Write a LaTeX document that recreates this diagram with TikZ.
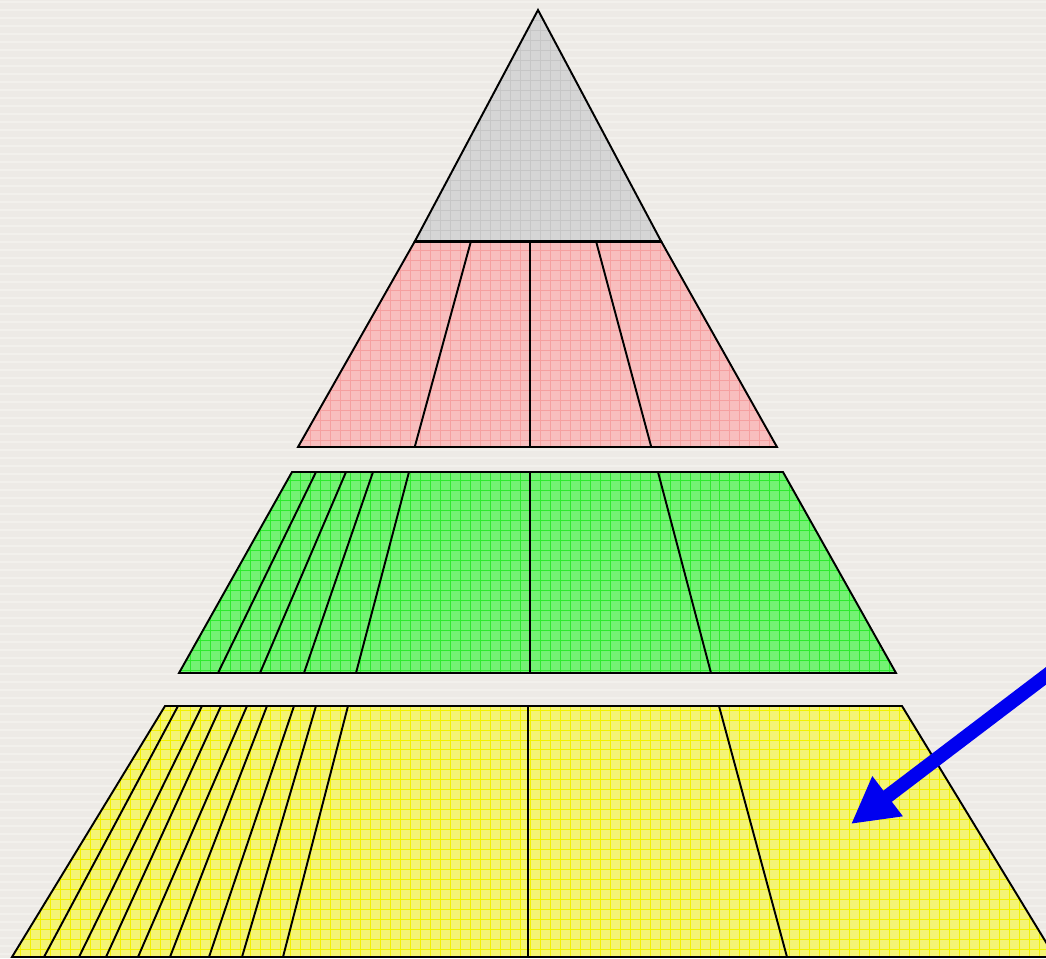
\documentclass[tikz,border=0pt]{standalone}
\usepackage{tikz}
\usepackage{xcolor}
\usetikzlibrary{arrows.meta}
\definecolor{backbeige}{HTML}{EDEAE6}
\definecolor{stripebeige}{HTML}{F2F0EC}
\definecolor{topgray}{HTML}{D5D5D5}
\definecolor{topgrid}{HTML}{C6C6C6}
\definecolor{secondred}{HTML}{F8BEBE}
\definecolor{secondgrid}{HTML}{F5A0A0}
\definecolor{thirdgreen}{HTML}{74F274}
\definecolor{thirdgrid}{HTML}{2EEA2E}
\definecolor{baseyellow}{HTML}{F4F474}
\definecolor{basegrid}{HTML}{F2F200}
\definecolor{pointblue}{HTML}{0000F0}
% fill a layer, mesh it, then outline it
\newcommand{\meshlayer}[3]{%
  \begin{scope}
    \clip #3;
    \fill[#1] (0,0) rectangle (1046,958);
    \draw[#2,line width=0.4pt,step=0.2cm] (0,0) grid (1046,958);
  \end{scope}
  \draw[layer] #3;}

\begin{document}
\begin{tikzpicture}[
      x=0.02cm,y=-0.02cm,
      layer/.style={draw=black,line width=1.1pt,line join=miter},
      split/.style={draw=black,line width=1.1pt},
      pointer/.style={-{Triangle[length=0.92cm,width=0.94cm]},
                      line width=0.28cm,draw=pointblue}
    ]
    \clip (0,0) rectangle (1046,958);
    \fill[backbeige] (0,0) rectangle (1046,958);
    \foreach \y in {2,10,...,958}
      \draw[stripebeige,line width=1.5pt] (0,\y) -- (1046,\y);
    % top
    \meshlayer{topgray}{topgrid}{(538,10) -- (661,241) -- (415,241) -- cycle}
    % second layer
    \meshlayer{secondred}{secondgrid}{(415,241) -- (661,241) -- (777,447) -- (298,447) -- cycle}
    \foreach \a/\b in {471/415,530/530,596/651}
      \draw[split] (\a,241) -- (\b,446);
    \draw[line width=1.7pt] (415,241) -- (661,241);
    % third layer
    \meshlayer{thirdgreen}{thirdgrid}{(292,472) -- (783,472) -- (896,673) -- (179,673) -- cycle}
    \foreach \a/\b in {316/218,346/260,373/304,409/356,530/530,658/711}
      \draw[split] (\a,472) -- (\b,673);
    % base layer
    \meshlayer{baseyellow}{basegrid}{(165,706) -- (902,706) -- (1055,957) -- (12,957) -- cycle}
    \foreach \a/\b in {178/44,202/79,221/106,247/138,267/170,294/209,316/242,348/283,528/528,719/787}
      \draw[split] (\a,706) -- (\b,957);
    % pointer
    \coordinate (arrowtail) at (1080,650);
    \coordinate (arrowtip) at (851,824);
    \draw[pointer] (arrowtail) -- (arrowtip);
  \end{tikzpicture}
\end{document}
